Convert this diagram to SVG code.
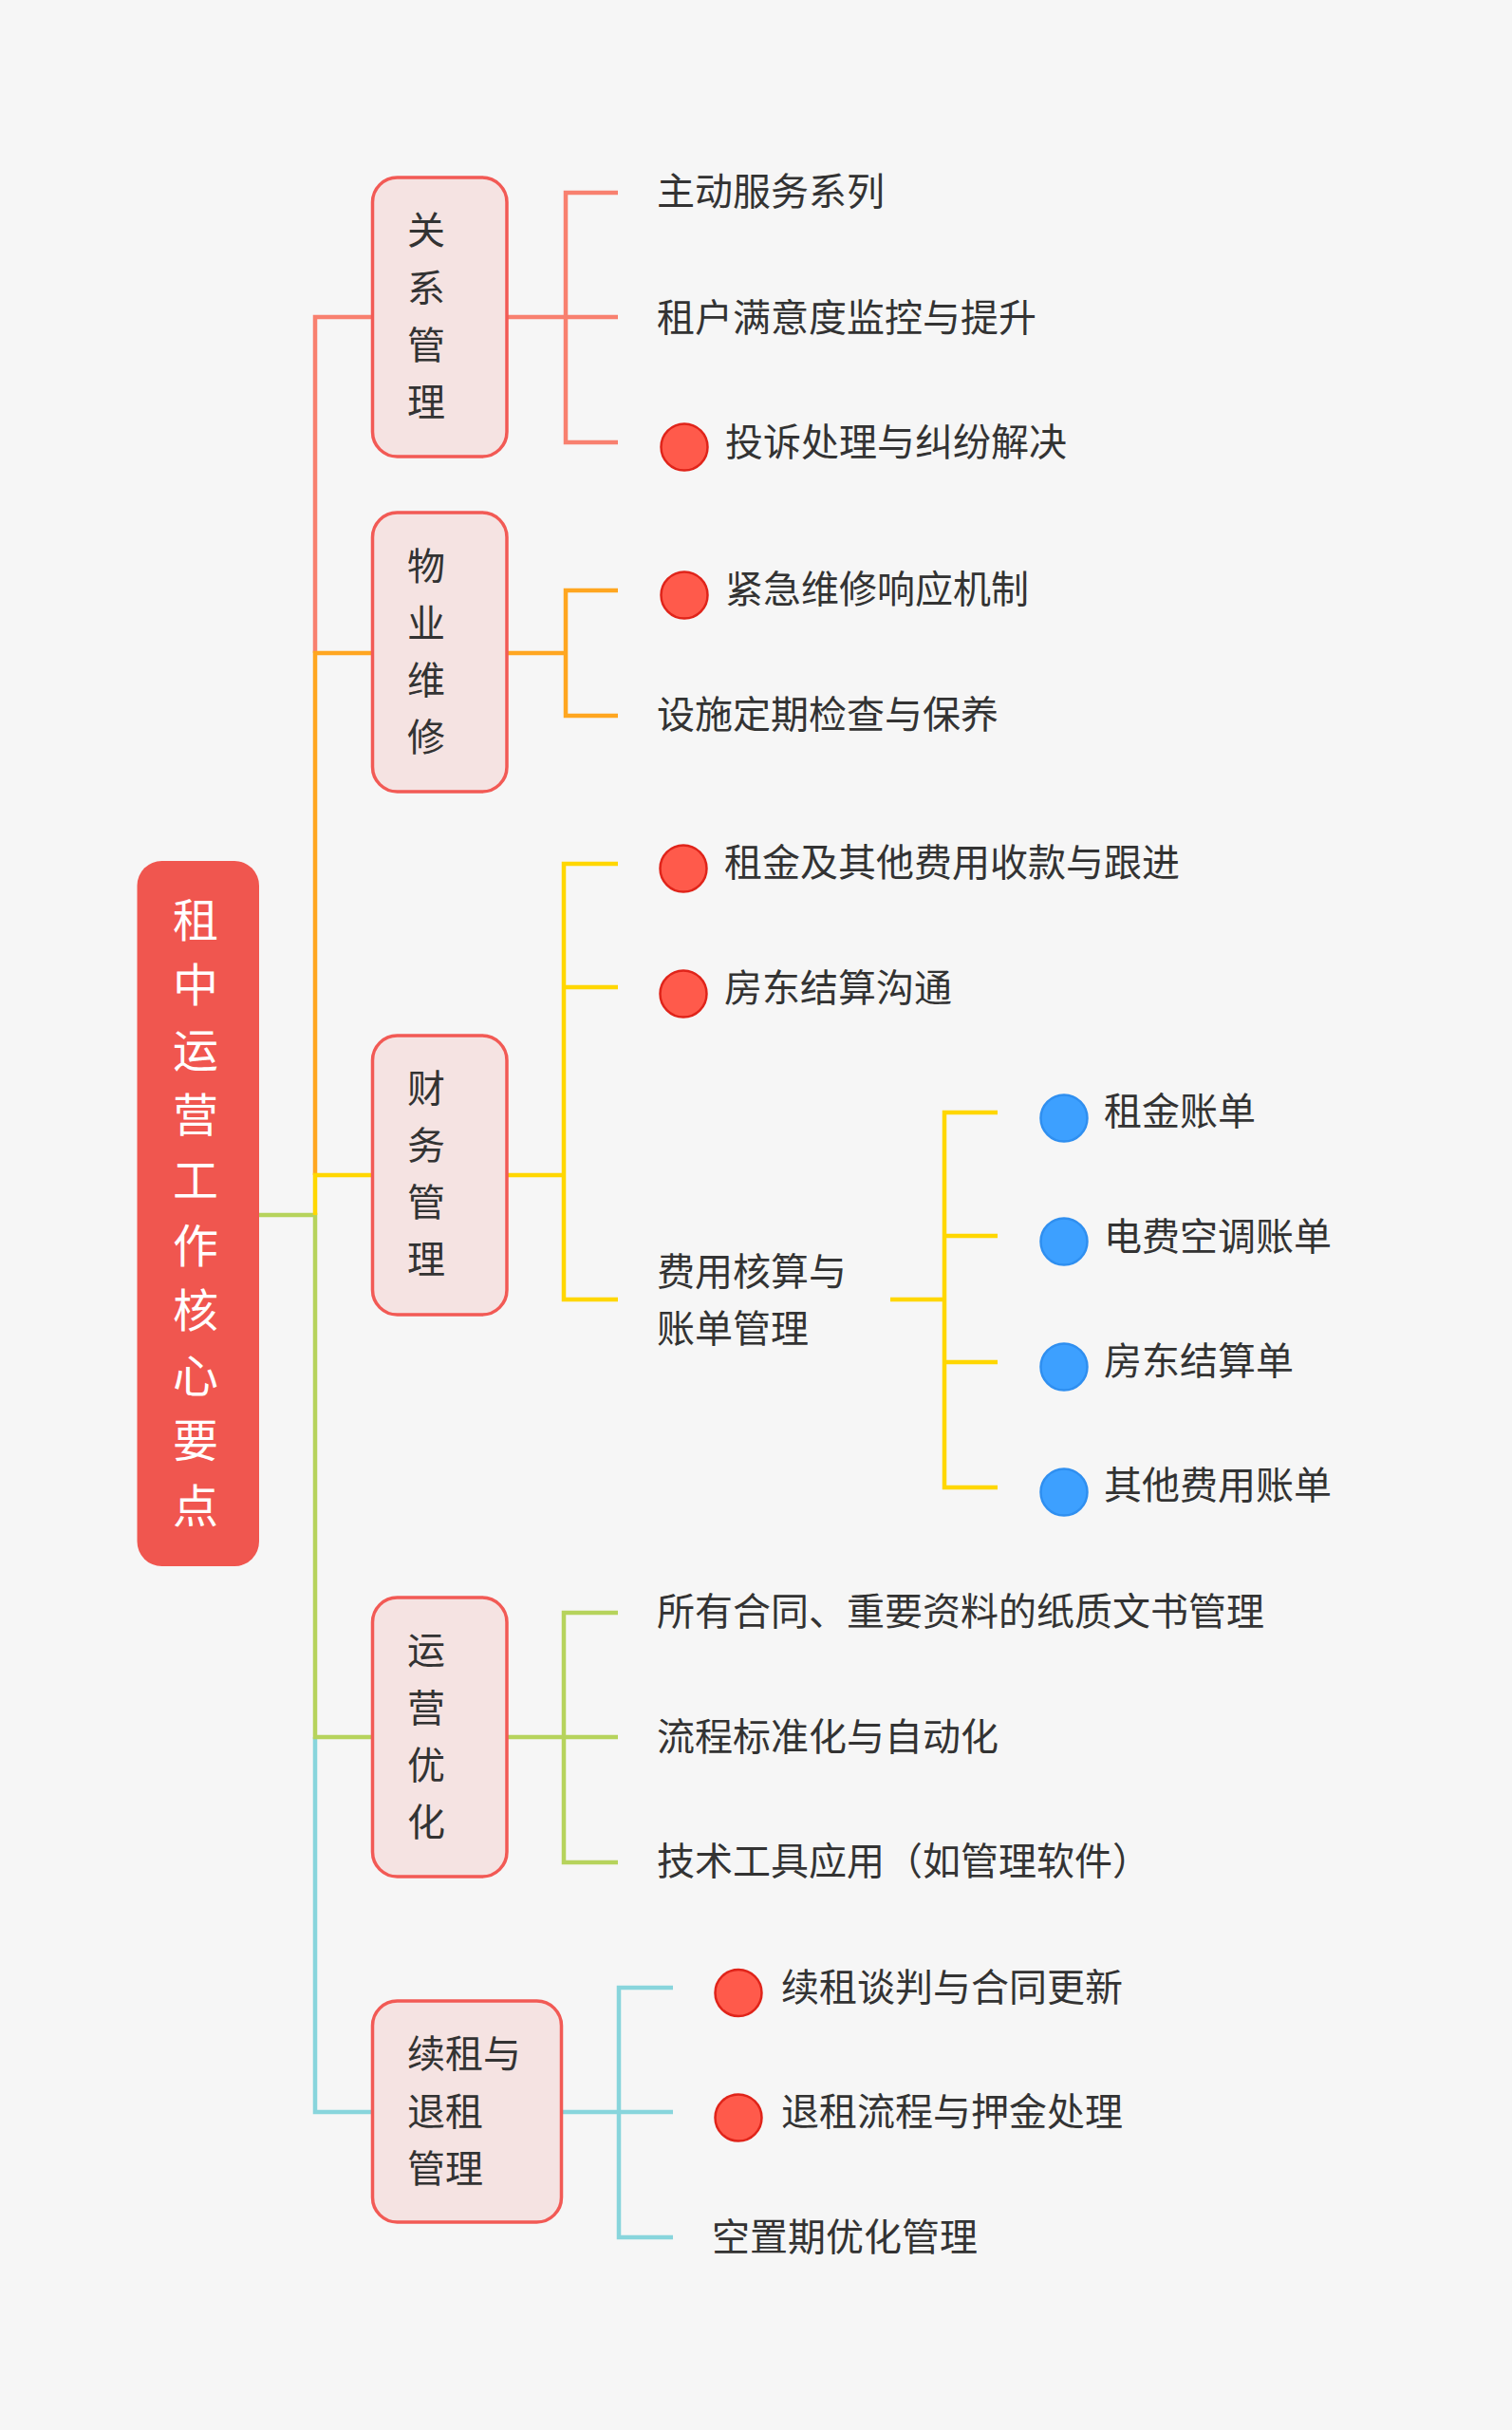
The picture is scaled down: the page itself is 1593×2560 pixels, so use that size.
<svg xmlns="http://www.w3.org/2000/svg" width="1593" height="2560" viewBox="0 0 1593 2560">
<style>
.t{font-family:"Noto Sans CJK SC","Noto Sans",sans-serif;font-size:40px;fill:#333333}
.tc{font-family:"Noto Sans CJK SC","Noto Sans",sans-serif;font-size:40px;fill:#333333;text-anchor:middle}
.rt{font-family:"Noto Sans CJK SC","Noto Sans",sans-serif;font-size:48px;fill:#ffffff;text-anchor:middle}
.node{fill:#F5E3E2;stroke:#F25A55;stroke-width:3.5}
.ln{fill:none;stroke-width:4.5;stroke-linejoin:miter;stroke-linecap:butt}
.red{stroke:#F8806F}.org{stroke:#FFA620}.yel{stroke:#FFD700}.grn{stroke:#B6D35C}.cyn{stroke:#88D5DC}
.br{fill:#FF5A4B;stroke:#E0241A;stroke-width:2.5}
.bb{fill:#3DA0FF;stroke:#2F8FF0;stroke-width:2.5}
</style>
<rect x="0" y="0" width="1593" height="2560" fill="#F6F6F6"/>
<g id="connectors">
<path class="ln red" d="M392,334 H332 V688"/>
<path class="ln org" d="M392,688 H332 V1238"/>
<path class="ln cyn" d="M332,1830 V2225 H392"/>
<path class="ln grn" d="M273,1280 H332 V1830 H392"/>
<path class="ln yel" d="M392,1238 H332 V1280"/>
<path class="ln red" d="M534,334 H651 M651,203 H596 V466 H651"/>
<path class="ln org" d="M534,688 H596 M651,622 H596 V754 H651"/>
<path class="ln yel" d="M534,1238 H594 M651,910 H594 V1369 H651 M594,1040 H651"/>
<path class="ln yel" d="M938,1369 H995 M1051,1172 H995 V1567 H1051 M995,1302 H1051 M995,1435 H1051"/>
<path class="ln grn" d="M534,1830 H594 M651,1699 H594 V1962 H651 M594,1830 H651"/>
<path class="ln cyn" d="M591,2225 H652 M709,2094 H652 V2357 H709 M652,2225 H709"/>
</g>
<g id="root">
<rect x="144.5" y="907" width="128.5" height="743" rx="26" fill="#F0564F"/>
<text class="rt" x="206" y="987">租</text>
<text class="rt" x="206" y="1055">中</text>
<text class="rt" x="206" y="1124">运</text>
<text class="rt" x="206" y="1192">营</text>
<text class="rt" x="206" y="1261">工</text>
<text class="rt" x="206" y="1330">作</text>
<text class="rt" x="206" y="1398">核</text>
<text class="rt" x="206" y="1467">心</text>
<text class="rt" x="206" y="1535">要</text>
<text class="rt" x="206" y="1604">点</text>
</g>
<g id="n1">
<rect class="node" x="392.5" y="187" width="141.5" height="294" rx="26"/>
<text class="tc" x="449" y="257">关</text>
<text class="tc" x="449" y="318">系</text>
<text class="tc" x="449" y="378">管</text>
<text class="tc" x="449" y="438">理</text>
</g>
<g id="n1c1"><text class="t" x="692" y="216">主动服务系列</text></g>
<g id="n1c2"><text class="t" x="692" y="349">租户满意度监控与提升</text></g>
<g id="n1c3"><circle class="br" cx="721" cy="471" r="24.5"/><text class="t" x="764" y="480">投诉处理与纠纷解决</text></g>
<g id="n2">
<rect class="node" x="392.5" y="540" width="141.5" height="294" rx="26"/>
<text class="tc" x="449" y="611">物</text>
<text class="tc" x="449" y="671">业</text>
<text class="tc" x="449" y="731">维</text>
<text class="tc" x="449" y="791">修</text>
</g>
<g id="n2c1"><circle class="br" cx="721" cy="627" r="24.5"/><text class="t" x="764" y="635">紧急维修响应机制</text></g>
<g id="n2c2"><text class="t" x="692" y="767">设施定期检查与保养</text></g>
<g id="n3">
<rect class="node" x="392.5" y="1091" width="141.5" height="294" rx="26"/>
<text class="tc" x="449" y="1161">财</text>
<text class="tc" x="449" y="1221">务</text>
<text class="tc" x="449" y="1281">管</text>
<text class="tc" x="449" y="1341">理</text>
</g>
<g id="n3c1"><circle class="br" cx="720" cy="915" r="24.5"/><text class="t" x="763" y="923">租金及其他费用收款与跟进</text></g>
<g id="n3c2"><circle class="br" cx="720" cy="1047" r="24.5"/><text class="t" x="763" y="1055">房东结算沟通</text></g>
<g id="n3c3"><text class="t" x="692" y="1354">费用核算与</text><text class="t" x="692" y="1414">账单管理</text></g>
<g id="n3c3a"><circle class="bb" cx="1121" cy="1178" r="24.5"/><text class="t" x="1163" y="1185">租金账单</text></g>
<g id="n3c3b"><circle class="bb" cx="1121" cy="1308" r="24.5"/><text class="t" x="1163" y="1317">电费空调账单</text></g>
<g id="n3c3c"><circle class="bb" cx="1121" cy="1440" r="24.5"/><text class="t" x="1163" y="1448">房东结算单</text></g>
<g id="n3c3d"><circle class="bb" cx="1121" cy="1572" r="24.5"/><text class="t" x="1163" y="1579">其他费用账单</text></g>
<g id="n4">
<rect class="node" x="392.5" y="1683" width="141.5" height="294" rx="26"/>
<text class="tc" x="449" y="1753">运</text>
<text class="tc" x="449" y="1814">营</text>
<text class="tc" x="449" y="1874">优</text>
<text class="tc" x="449" y="1934">化</text>
</g>
<g id="n4c1"><text class="t" x="692" y="1712">所有合同、重要资料的纸质文书管理</text></g>
<g id="n4c2"><text class="t" x="692" y="1844">流程标准化与自动化</text></g>
<g id="n4c3"><text class="t" x="692" y="1975">技术工具应用（如管理软件）</text></g>
<g id="n5">
<rect class="node" x="392.5" y="2108" width="199" height="233" rx="26"/>
<text class="t" x="429" y="2178">续租与</text>
<text class="t" x="429" y="2239">退租</text>
<text class="t" x="429" y="2299">管理</text>
</g>
<g id="n5c1"><circle class="br" cx="778" cy="2099.5" r="24.5"/><text class="t" x="823" y="2108">续租谈判与合同更新</text></g>
<g id="n5c2"><circle class="br" cx="778" cy="2231" r="24.5"/><text class="t" x="823" y="2239">退租流程与押金处理</text></g>
<g id="n5c3"><text class="t" x="750" y="2371">空置期优化管理</text></g>
</svg>
